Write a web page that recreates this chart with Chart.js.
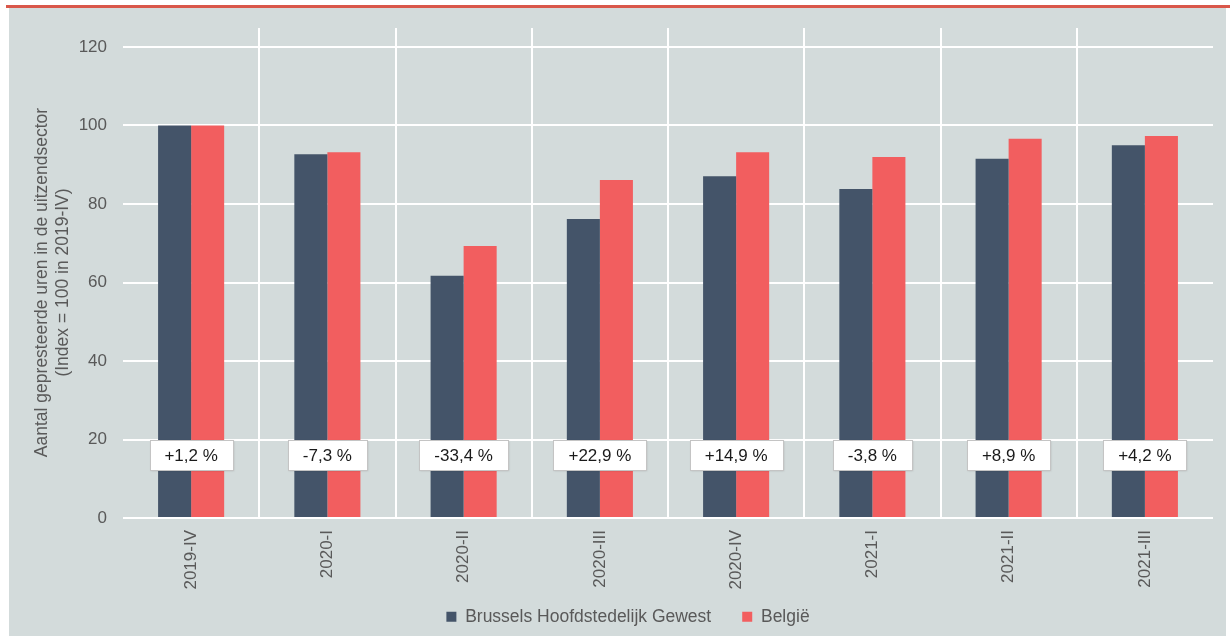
<!DOCTYPE html>
<html>
<head>
<meta charset="utf-8">
<script src="https://cdn.jsdelivr.net/npm/chart.js@4"></script>
<style>
html, body { margin: 0; padding: 0; background: #fff; }
#topline { position: absolute; left: 6px; top: 5px; width: 1224px; height: 3px; background: #d9574a; }
#panel { position: absolute; left: 9px; top: 8px; width: 1217px; height: 628px; background: #d3dbdb; }
</style>
</head>
<body>
<div id="topline"></div>
<div id="panel"><canvas id="chart" width="1217" height="628"></canvas></div>
<script>
// data
const quarters = ['2019-IV', '2020-I', '2020-II', '2020-III', '2020-IV', '2021-I', '2021-II', '2021-III'];
const brussels = [100, 92.7, 61.7, 76.2, 87.1, 83.8, 91.5, 95.0];
const belgie = [100, 93.2, 69.3, 86.1, 93.2, 92.0, 96.6, 97.3];
const changes = ['+1,2 %', '-7,3 %', '-33,4 %', '+22,9 %', '+14,9 %', '-3,8 %', '+8,9 %', '+4,2 %'];
const labelLevel = 16; // where the % boxes sit, in axis units

Chart.defaults.font.family = "'Liberation Sans', Arial, sans-serif";
Chart.defaults.color = '#595959';

// white separators between quarters (they stick out above the top gridline)
const separators = {
  id: 'separators',
  beforeDatasetsDraw(chart) {
    const ctx = chart.ctx, x = chart.scales.x, area = chart.chartArea;
    ctx.save();
    ctx.strokeStyle = '#ffffff';
    ctx.lineWidth = 2;
    for (let i = 0; i < quarters.length - 1; i++) {
      const px = Math.round((x.getPixelForValue(i) + x.getPixelForValue(i + 1)) / 2);
      ctx.beginPath();
      ctx.moveTo(px, area.top - 19);
      ctx.lineTo(px, area.bottom);
      ctx.stroke();
    }
    ctx.restore();
  }
};

// the white % boxes
const changeBoxes = {
  id: 'changeBoxes',
  afterDatasetsDraw(chart) {
    const ctx = chart.ctx, x = chart.scales.x, y = chart.scales.y;
    ctx.save();
    ctx.font = "17px 'Liberation Sans', Arial, sans-serif";
    ctx.textAlign = 'center';
    ctx.textBaseline = 'middle';
    changes.forEach((txt, i) => {
      const cx = x.getPixelForValue(i);
      const cy = y.getPixelForValue(labelLevel);
      const w = Math.round(ctx.measureText(txt).width + 30);
      const h = 30;
      const bx = Math.round(cx - w / 2), by = Math.round(cy - h / 2);
      ctx.shadowColor = 'rgba(0,0,0,0.15)';
      ctx.shadowBlur = 2;
      ctx.shadowOffsetX = 1;
      ctx.shadowOffsetY = 1;
      ctx.fillStyle = '#ffffff';
      ctx.fillRect(bx, by, w, h);
      ctx.shadowColor = 'transparent';
      ctx.strokeStyle = '#c4c4c4';
      ctx.lineWidth = 1;
      ctx.strokeRect(bx + 0.5, by + 0.5, w, h);
      ctx.fillStyle = '#1a1a1a';
      ctx.fillText(txt, cx, cy + 1);
    });
    ctx.restore();
  }
};

// move the legend so it sits close under the rotated labels, a bit right of centre
const legendLift = {
  id: 'legendLift',
  afterLayout(chart) {
    const lg = chart.legend;
    const h = lg.height;
    lg.top = 569;
    lg.bottom = 569 + h;
    lg.left += 17;
    lg.right += 17;
  }
};

new Chart(document.getElementById('chart'), {
  type: 'bar',
  data: {
    labels: quarters,
    datasets: [
      { label: 'Brussels Hoofdstedelijk Gewest', data: brussels, backgroundColor: '#445469' },
      { label: 'België', data: belgie, backgroundColor: '#f25e5f' }
    ]
  },
  options: {
    responsive: false,
    animation: false,
    layout: { padding: { top: 39, right: 13, left: 0, bottom: -12 } },
    datasets: { bar: { categoryPercentage: 0.485, barPercentage: 1 } },
    plugins: {
      tooltip: { enabled: false },
      legend: {
        position: 'bottom',
        labels: { boxWidth: 10, boxHeight: 10, padding: 31, font: { size: 17.5 }, color: '#595959' }
      }
    },
    scales: {
      x: {
        grid: { display: false, drawTicks: false },
        border: { display: false },
        ticks: { minRotation: 90, maxRotation: 90, padding: 12, font: { size: 17 }, color: '#595959' },
        afterFit(scale) { scale.height = 130 - scale.chart.legend.height; }
      },
      y: {
        min: 0,
        max: 120,
        grid: { color: '#ffffff', lineWidth: 2, drawTicks: false },
        border: { display: false },
        ticks: { stepSize: 20, padding: 16, font: { size: 17 }, color: '#595959' },
        title: {
          display: true,
          text: ['Aantal gepresteerde uren in de uitzendsector', '(Index = 100 in 2019-IV)'],
          font: { size: 17.5, lineHeight: 1.24 },
          color: '#595959',
          padding: { top: 22, bottom: 0 }
        },
        afterFit(scale) { scale.width = 114; }
      }
    }
  },
  plugins: [separators, changeBoxes, legendLift]
});
</script>
</body>
</html>
